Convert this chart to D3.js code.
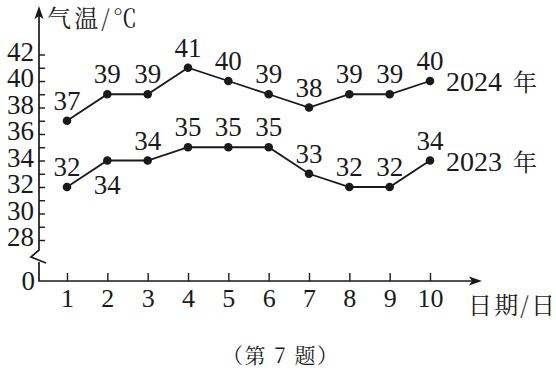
<!DOCTYPE html>
<html><head><meta charset="utf-8">
<script src="https://cdn.jsdelivr.net/npm/d3@7"></script>
<style>
body{margin:0;background:#fff;}
svg{display:block;}
text{fill:#1a1a1a;}
</style></head>
<body>
<script>
const days = [1,2,3,4,5,6,7,8,9,10];
const temps2024 = [37,39,39,41,40,39,38,39,39,40];
const temps2023 = [32,34,34,35,35,35,33,32,32,34];
const seriesYears = ["2024","2023"];
const yearUnit = "年";
const yTickValues = d3.range(28,43);          // 28..42, labels on even values
const labelBelow2023 = [false,true,false,false,false,false,false,false,false,false];
const yTitle = "气温/℃", xTitle = "日期/日", caption = "（第 7 题）";

const W=556,H=370;
const ink="#1a1a1a";
const serif="'Liberation Serif','Times New Roman',serif";
const cjk="'Noto Serif CJK SC','Noto Sans CJK SC',serif";
const svg=d3.select("body").append("svg").attr("width",W).attr("height",H);
svg.append("rect").attr("width",W).attr("height",H).attr("fill","#fff");

const axisX=39, axisY=281;
const x=d3.scaleLinear().domain([1,10]).range([67,430]);
const y=d3.scaleLinear().domain([28,42]).range([240,54.5]);

// y axis ticks
const yAxis=d3.axisLeft(y).tickValues(yTickValues).tickSize(-6).tickPadding(5)
  .tickFormat(d=>d%2===0?d:"");
const gy=svg.append("g").attr("transform",`translate(${axisX},0)`).call(yAxis);
gy.select(".domain").remove();
gy.selectAll(".tick line").attr("stroke",ink).attr("stroke-width",1.4);
gy.selectAll(".tick text").attr("font-family",serif).attr("font-size",27).attr("fill",ink)
  .attr("dy","0.22em");

// x axis ticks
const xAxis=d3.axisBottom(x).tickValues(days).tickSize(-8).tickPadding(8);
const gx=svg.append("g").attr("transform",`translate(0,${axisY})`).call(xAxis);
gx.select(".domain").remove();
gx.selectAll(".tick line").attr("stroke",ink).attr("stroke-width",1.4);
gx.selectAll(".tick text").attr("font-family",serif).attr("font-size",26).attr("fill",ink);

// axis lines with break and arrows
const ax=svg.append("g").attr("stroke",ink).attr("stroke-width",1.7).attr("fill","none");
ax.append("path").attr("d",`M${axisX},14 L${axisX},250 L31,257 L46,263`);
ax.append("path").attr("d",`M${axisX},262 L${axisX},${axisY} L472,${axisY}`);
svg.append("path").attr("d",`M${axisX},6 L${axisX-4.5},19 L${axisX},16 L${axisX+4.5},19 Z`).attr("fill",ink);
svg.append("path").attr("d",`M482,${axisY} L469,${axisY-4.5} L472,${axisY} L469,${axisY+4.5} Z`).attr("fill",ink);

// origin label
svg.append("text").attr("x",35).attr("y",290).attr("text-anchor","end")
  .attr("font-family",serif).attr("font-size",27).text("0");

// axis titles
svg.append("text").attr("x",47).attr("y",27).attr("font-family",cjk).attr("font-size",24)
  .attr("textLength",90).attr("lengthAdjust","spacing").text(yTitle);
svg.append("text").attr("x",468).attr("y",314).attr("font-family",cjk).attr("font-size",24)
  .attr("textLength",87).attr("lengthAdjust","spacing").text(xTitle);
svg.append("text").attr("x",280).attr("y",363).attr("text-anchor","middle")
  .attr("font-family",cjk).attr("font-size",21).attr("textLength",116).attr("lengthAdjust","spacing").text(caption);

// series
const line=d3.line().x((d,i)=>x(days[i])).y(d=>y(d));
[temps2024,temps2023].forEach((vals,si)=>{
  svg.append("path").datum(vals).attr("d",line).attr("fill","none")
    .attr("stroke",ink).attr("stroke-width",1.8);
  svg.append("g").selectAll("circle").data(vals).join("circle")
    .attr("cx",(d,i)=>x(days[i])).attr("cy",d=>y(d)).attr("r",4.3).attr("fill",ink);
  svg.append("g").selectAll("text").data(vals).join("text")
    .attr("x",(d,i)=>x(days[i]))
    .attr("y",(d,i)=>{
      const below = si===1 && labelBelow2023[i];
      return y(d)+(below?33:-11);
    })
    .attr("text-anchor","middle").attr("font-family",serif)
    .attr("font-size",27).text(d=>d);
  // series name
  const last=vals[vals.length-1];
  const g=svg.append("g").attr("transform",`translate(446,${y(last)+10})`);
  g.append("text").attr("font-family",serif).attr("font-size",28).text(seriesYears[si]);
  g.append("text").attr("x",67).attr("font-family",cjk).attr("font-size",24).text(yearUnit);
});
</script>
</body></html>
